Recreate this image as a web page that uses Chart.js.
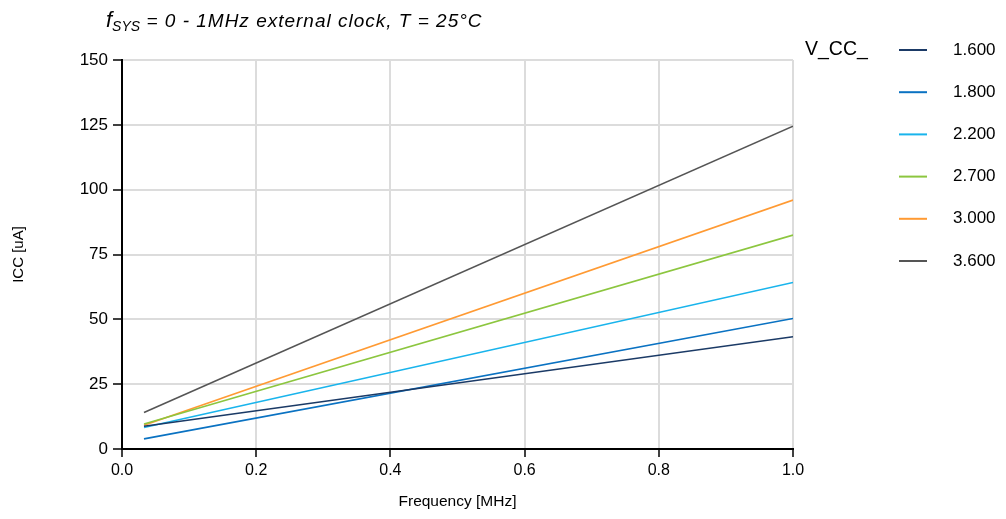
<!DOCTYPE html>
<html>
<head>
<meta charset="utf-8">
<script src="https://cdn.jsdelivr.net/npm/chart.js@4"></script>
<style>
  html, body { margin: 0; padding: 0; background: #fff; }
  #wrap { width: 1006px; height: 519px; }
</style>
</head>
<body>
<div id="wrap"><canvas id="grafico" width="1006" height="519"></canvas></div>
<script>
// Datos
const frecuencias = [0.032768, 1.0];
const icc16 = [8.8, 43.3];
const icc18 = [3.9, 50.3];
const icc22 = [8.3, 64.2];
const icc27 = [9.6, 82.5];
const icc30 = [9.2, 96.0];
const icc36 = [14.1, 124.5];
const etiquetasVcc = ['1.600', '1.800', '2.200', '2.700', '3.000', '3.600'];
const seriesIcc = [icc16, icc18, icc22, icc27, icc30, icc36];
const colores = ['#1b3a66', '#0a72c2', '#19b4ec', '#8cc63f', '#ff9a33', '#555555'];

const fuente = 'Arial, "Liberation Sans", sans-serif';

const datasets = seriesIcc.map((serie, i) => ({
    label: etiquetasVcc[i],
    data: serie.map((v, j) => ({ x: frecuencias[j], y: v })),
    borderColor: colores[i],
    backgroundColor: colores[i],
    borderWidth: 1.6,
    pointRadius: 0,
    fill: false,
    tension: 0
}));

// Título y leyenda dibujados a mano
const extras = {
    id: 'extras',
    afterDraw(chart) {
        const ctx = chart.ctx;
        ctx.save();
        ctx.fillStyle = '#000';
        ctx.textBaseline = 'alphabetic';
        ctx.textAlign = 'left';
        // título
        let x = 106;
        const yb = 27;
        ctx.font = 'italic 22px ' + fuente;
        ctx.fillText('f', x, yb);
        x += ctx.measureText('f').width;
        ctx.font = 'italic 14px ' + fuente;
        ctx.fillText('SYS', x, yb + 4);
        x += ctx.measureText('SYS').width;
        ctx.font = 'italic 19px ' + fuente;
        ctx.letterSpacing = '1px';
        ctx.fillText(' = 0 - 1MHz external clock, T = 25°C', x, yb);
        ctx.letterSpacing = '0px';

        // leyenda
        ctx.textBaseline = 'middle';
        ctx.font = '19.5px ' + fuente;
        ctx.fillText('V_CC_', 805, 50);
        ctx.font = '17px ' + fuente;
        chart.data.datasets.forEach((ds, i) => {
            const y = 50 + i * 42.2;
            ctx.strokeStyle = ds.borderColor;
            ctx.lineWidth = 2;
            ctx.beginPath();
            ctx.moveTo(899, y);
            ctx.lineTo(927, y);
            ctx.stroke();
            ctx.fillStyle = '#000';
            ctx.fillText(ds.label, 953, y);
        });
        ctx.restore();
    }
};

new Chart(document.getElementById('grafico').getContext('2d'), {
    type: 'line',
    data: { datasets },
    options: {
        responsive: false,
        animation: false,
        layout: { padding: { left: 0, right: 213, top: 60, bottom: 0 } },
        plugins: {
            legend: { display: false },
            tooltip: { enabled: false }
        },
        scales: {
            x: {
                type: 'linear',
                min: 0,
                max: 1,
                afterFit: (s) => { s.height = 70; },
                ticks: {
                    stepSize: 0.2,
                    color: '#000',
                    font: { size: 16, family: fuente },
                    padding: 4,
                    callback: (v) => v.toFixed(1)
                },
                grid: { color: '#dcdcdc', lineWidth: 2, tickColor: '#000', tickLength: 8, tickWidth: 1.5 },
                border: { color: '#000', width: 2 },
                title: {
                    display: true,
                    text: 'Frequency [MHz]',
                    color: '#000',
                    font: { size: 15.5, family: fuente },
                    padding: { top: 8, bottom: 8 }
                }
            },
            y: {
                min: 0,
                max: 150,
                afterFit: (s) => { s.width = 122; },
                ticks: {
                    stepSize: 25,
                    color: '#000',
                    font: { size: 17, family: fuente },
                    padding: 5
                },
                grid: { color: '#dcdcdc', lineWidth: 2, tickColor: '#000', tickLength: 9, tickWidth: 1.5 },
                border: { color: '#000', width: 2 },
                title: {
                    display: true,
                    text: 'ICC [uA]',
                    color: '#000',
                    font: { size: 15, family: fuente },
                    padding: { top: 10, bottom: 0 }
                }
            }
        }
    },
    plugins: [extras]
});
</script>
</body>
</html>
